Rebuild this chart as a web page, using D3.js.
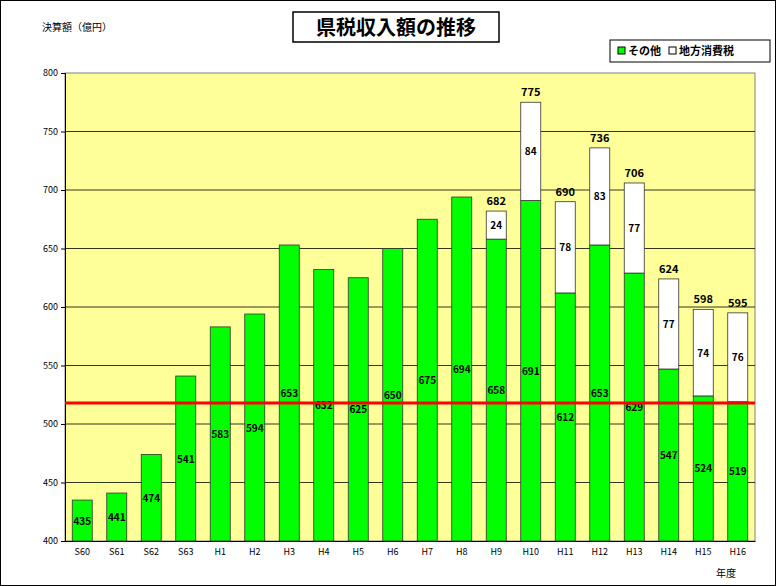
<!DOCTYPE html><html><head><meta charset="utf-8"><script src="https://cdn.jsdelivr.net/npm/d3@7"></script>
<style>body{margin:0;background:#fff}text{font-family:"Noto Sans CJK JP","DejaVu Sans",sans-serif}</style></head><body>
<svg id="c" width="776" height="586"></svg>
<script>
const categories=["S60","S61","S62","S63","H1","H2","H3","H4","H5","H6","H7","H8","H9","H10","H11","H12","H13","H14","H15","H16"];
const other=[435,441,474,541,583,594,653,632,625,650,675,694,658,691,612,653,629,547,524,519];
const localTax=[0,0,0,0,0,0,0,0,0,0,0,0,24,84,78,83,77,77,74,76];
const yTicks=[400,450,500,550,600,650,700,750,800];
const refValue=518;
const svg=d3.select("#c");
svg.append("rect").attr("x",0.5).attr("y",0.5).attr("width",775).attr("height",585).attr("fill","#fff").attr("stroke","#000");
const L=65,R=755,T=73,B=541;
const x=d3.scaleBand().domain(categories).range([L,R]).paddingInner(0.42).paddingOuter(0.21);
const y=d3.scaleLinear().domain([400,800]).range([B,T]);
svg.append("rect").attr("x",L).attr("y",T).attr("width",R-L).attr("height",B-T).attr("fill","#ffff99").attr("stroke","#808080");
svg.append("g").selectAll("line").data(yTicks.slice(1,-1)).join("line").attr("x1",L).attr("x2",R).attr("y1",d=>y(d)).attr("y2",d=>y(d)).attr("stroke","#000").attr("stroke-width",0.8);
const ya=svg.append("g").attr("transform",`translate(${L},0)`).call(d3.axisLeft(y).tickValues(yTicks).tickSize(4));
ya.select(".domain").attr("stroke","#000");
ya.selectAll("text").attr("font-size",9).attr("font-family","DejaVu Sans");
const xa=svg.append("g").attr("transform",`translate(0,${B})`).call(d3.axisBottom(x).tickSize(0).tickPadding(8));
xa.select(".domain").attr("stroke","#000");
xa.selectAll("text").attr("font-size",9).attr("font-family","DejaVu Sans");
const g=svg.append("g");
categories.forEach((c,i)=>{
  const bx=x(c),bw=x.bandwidth(),o=other[i],t=localTax[i];
  g.append("rect").attr("x",bx).attr("y",y(o)).attr("width",bw).attr("height",y(400)-y(o)).attr("fill","#00ff00").attr("stroke","#333").attr("stroke-width",0.8);
  g.append("text").attr("x",bx+bw/2).attr("y",y((400+o)/2)+4).attr("text-anchor","middle").attr("font-size",10).attr("font-weight","bold").attr("font-family","Liberation Sans Narrow, DejaVu Sans Condensed").text(o);
  if(t>0){
    g.append("rect").attr("x",bx).attr("y",y(o+t)).attr("width",bw).attr("height",y(o)-y(o+t)).attr("fill","#fff").attr("stroke","#333").attr("stroke-width",0.8);
    g.append("text").attr("x",bx+bw/2).attr("y",y(o+t/2)+4).attr("text-anchor","middle").attr("font-size",10).attr("font-weight","bold").attr("font-family","Liberation Sans Narrow, DejaVu Sans Condensed").text(t);
    g.append("text").attr("x",bx+bw/2).attr("y",y(o+t)-6).attr("text-anchor","middle").attr("font-size",11).attr("font-weight","bold").attr("font-family","Liberation Sans Narrow, DejaVu Sans Condensed").text(o+t);
  }
});
svg.append("line").attr("x1",L).attr("x2",R).attr("y1",y(refValue)).attr("y2",y(refValue)).attr("stroke","#ff0000").attr("stroke-width",3);
svg.append("rect").attr("x",293).attr("y",12).attr("width",206).attr("height",30).attr("fill","#fff").attr("stroke","#000").attr("stroke-width",1.5);
svg.append("text").attr("x",396).attr("y",35).attr("text-anchor","middle").attr("font-size",20).attr("font-weight","bold").text("県税収入額の推移");
svg.append("text").attr("x",42).attr("y",31).attr("font-size",10).text("決算額（億円）");
svg.append("text").attr("x",716).attr("y",577).attr("font-size",10).text("年度");
svg.append("rect").attr("x",610).attr("y",40).attr("width",160).attr("height",22).attr("fill","#fff").attr("stroke","#000");
svg.append("rect").attr("x",618).attr("y",47).attr("width",7).attr("height",7).attr("fill","#00ff00").attr("stroke","#000");
svg.append("text").attr("x",628).attr("y",55).attr("font-size",11).attr("font-weight","bold").text("その他");
svg.append("rect").attr("x",669).attr("y",47).attr("width",7).attr("height",7).attr("fill","#fff").attr("stroke","#000");
svg.append("text").attr("x",679).attr("y",55).attr("font-size",11).attr("font-weight","bold").text("地方消費税");
</script></body></html>
